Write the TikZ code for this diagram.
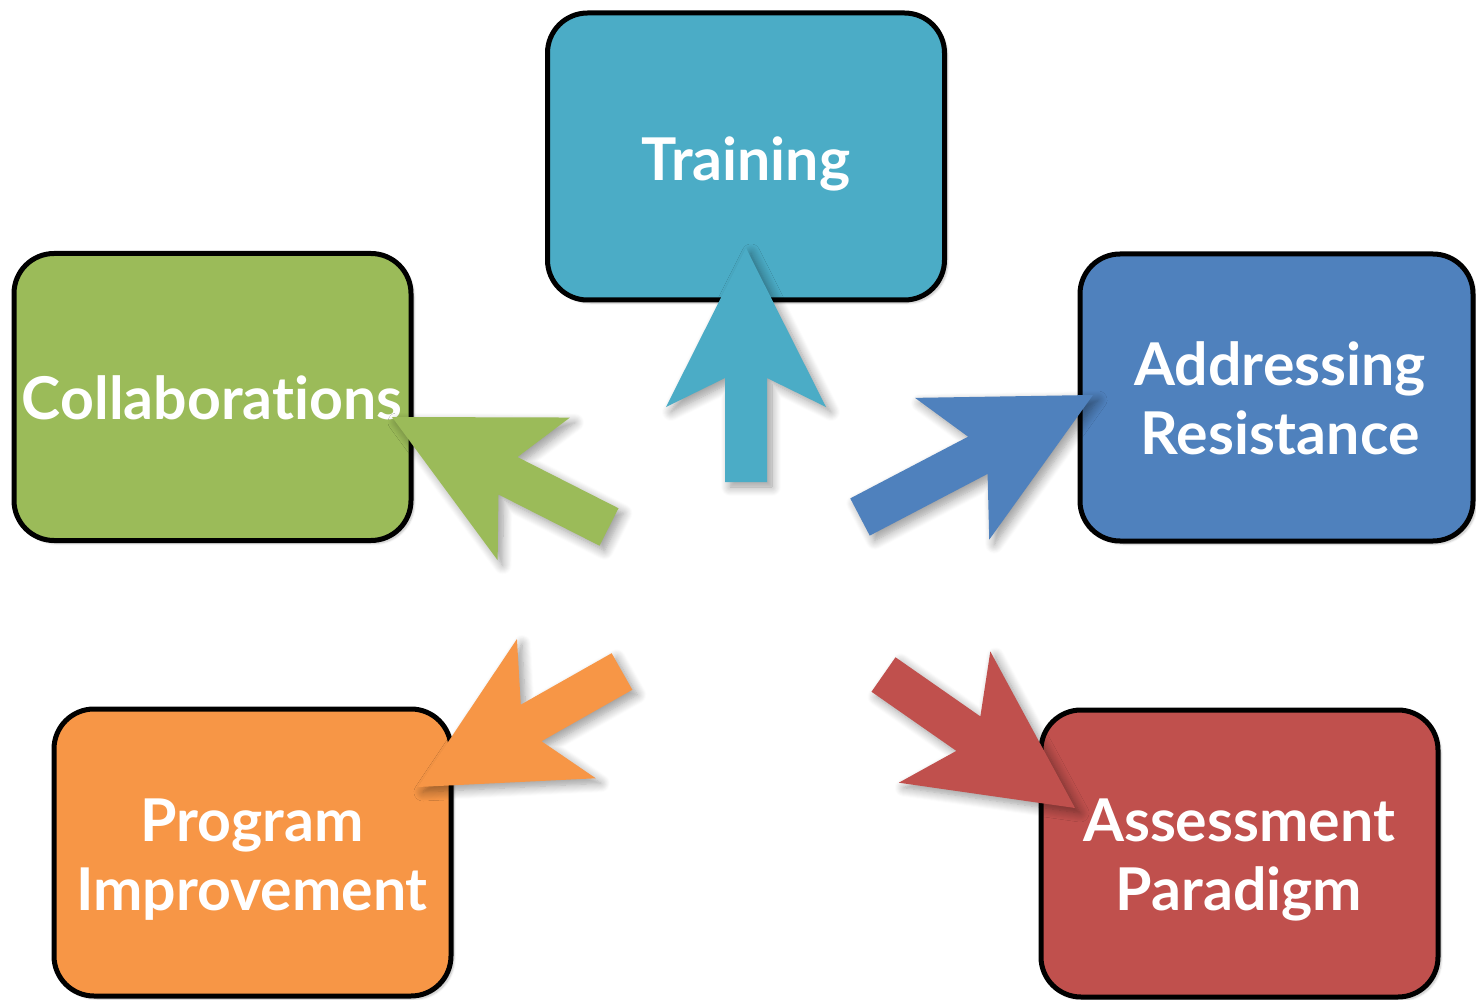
\documentclass[tikz,border=0pt]{standalone}
\usepackage{fontspec}
\setmainfont{Lato}[Ligatures=NoCommon]
\usetikzlibrary{calc,shadows.blur}
\definecolor{cTrain}{HTML}{4BACC6}
\definecolor{cGreen}{HTML}{9BBB59}
\definecolor{cBlue}{HTML}{4F81BD}
\definecolor{cOrange}{HTML}{F79646}
\definecolor{cRed}{HTML}{C0504D}
\tikzset{
  boxstyle/.style={draw=black, line width=5pt, rounded corners=40pt,
    minimum width=397pt, minimum height=287pt, inner sep=0pt,
    blur shadow={shadow xshift=3pt, shadow yshift=-3pt, shadow opacity=25, shadow blur steps=6}},
  labelstyle/.style={text=white, align=center, inner sep=0pt,
    font=\fontsize{59}{69}\selectfont\bfseries},
  arrowshape/.style={fill=#1, draw=none,
    blur shadow={shadow xshift=5pt, shadow yshift=-5pt, shadow opacity=40, shadow blur radius=9pt, shadow blur steps=10}},
}
\newcommand{\blockarrow}[3]{%
  \coordinate (h) at ($(#2)!159pt!(#1)$);
  \coordinate (n) at ($(#2)!130pt!(#1)$);
  \fill[arrowshape=#3] (#2) -- ($(h)!80pt!90:(#2)$) -- ($(n)!21pt!90:(#2)$)
    -- ($(#1)!21pt!90:(#2)$) -- ($(#1)!21pt!-90:(#2)$)
    -- ($(n)!21pt!-90:(#2)$) -- ($(h)!80pt!-90:(#2)$) -- cycle;
}
\begin{document}
\begin{tikzpicture}[x=1pt, y=-1pt]
  \useasboundingbox (0,0) rectangle (1476,1000);
  \node[boxstyle, fill=cTrain] (train) at (746,156.5) {};
  \node[boxstyle, fill=cGreen] (collab) at (212.5,397) {};
  \node[boxstyle, fill=cBlue, minimum width=393pt] (resist) at (1276.5,397.5) {};
  \node[boxstyle, fill=cOrange] (prog) at (252.5,852.5) {};
  \node[boxstyle, fill=cRed] (assess) at (1239.5,853.5) {};

  \node[labelstyle] (trainL) at (746,164) {Training};
  \node[labelstyle] (collabL) at (212,398) {Collaborations};
  \node[labelstyle] (resistL) at (1280,398) {Addressing\\Resistance};
  \node[labelstyle] (progL) at (252,860) {Program\\Improvement};
  \node[labelstyle] (assessL) at (1239,860) {Assessment\\Paradigm};

  \coordinate (tailT) at (746,482);   \coordinate (tipT) at (746,248);
  \coordinate (tailC) at (609,527);   \coordinate (tipC) at (392,417);
  \coordinate (tailR) at (860,517);   \coordinate (tipR) at (1093,395);
  \coordinate (tailP) at (622,671.5); \coordinate (tipP) at (418,787);
  \coordinate (tailA) at (883.5,674.5); \coordinate (tipA) at (1075,808);

  \blockarrow{tailT}{tipT}{cTrain}
  \blockarrow{tailC}{tipC}{cGreen}
  \blockarrow{tailR}{tipR}{cBlue}
  \blockarrow{tailP}{tipP}{cOrange}
  \blockarrow{tailA}{tipA}{cRed}
\end{tikzpicture}
\end{document}
